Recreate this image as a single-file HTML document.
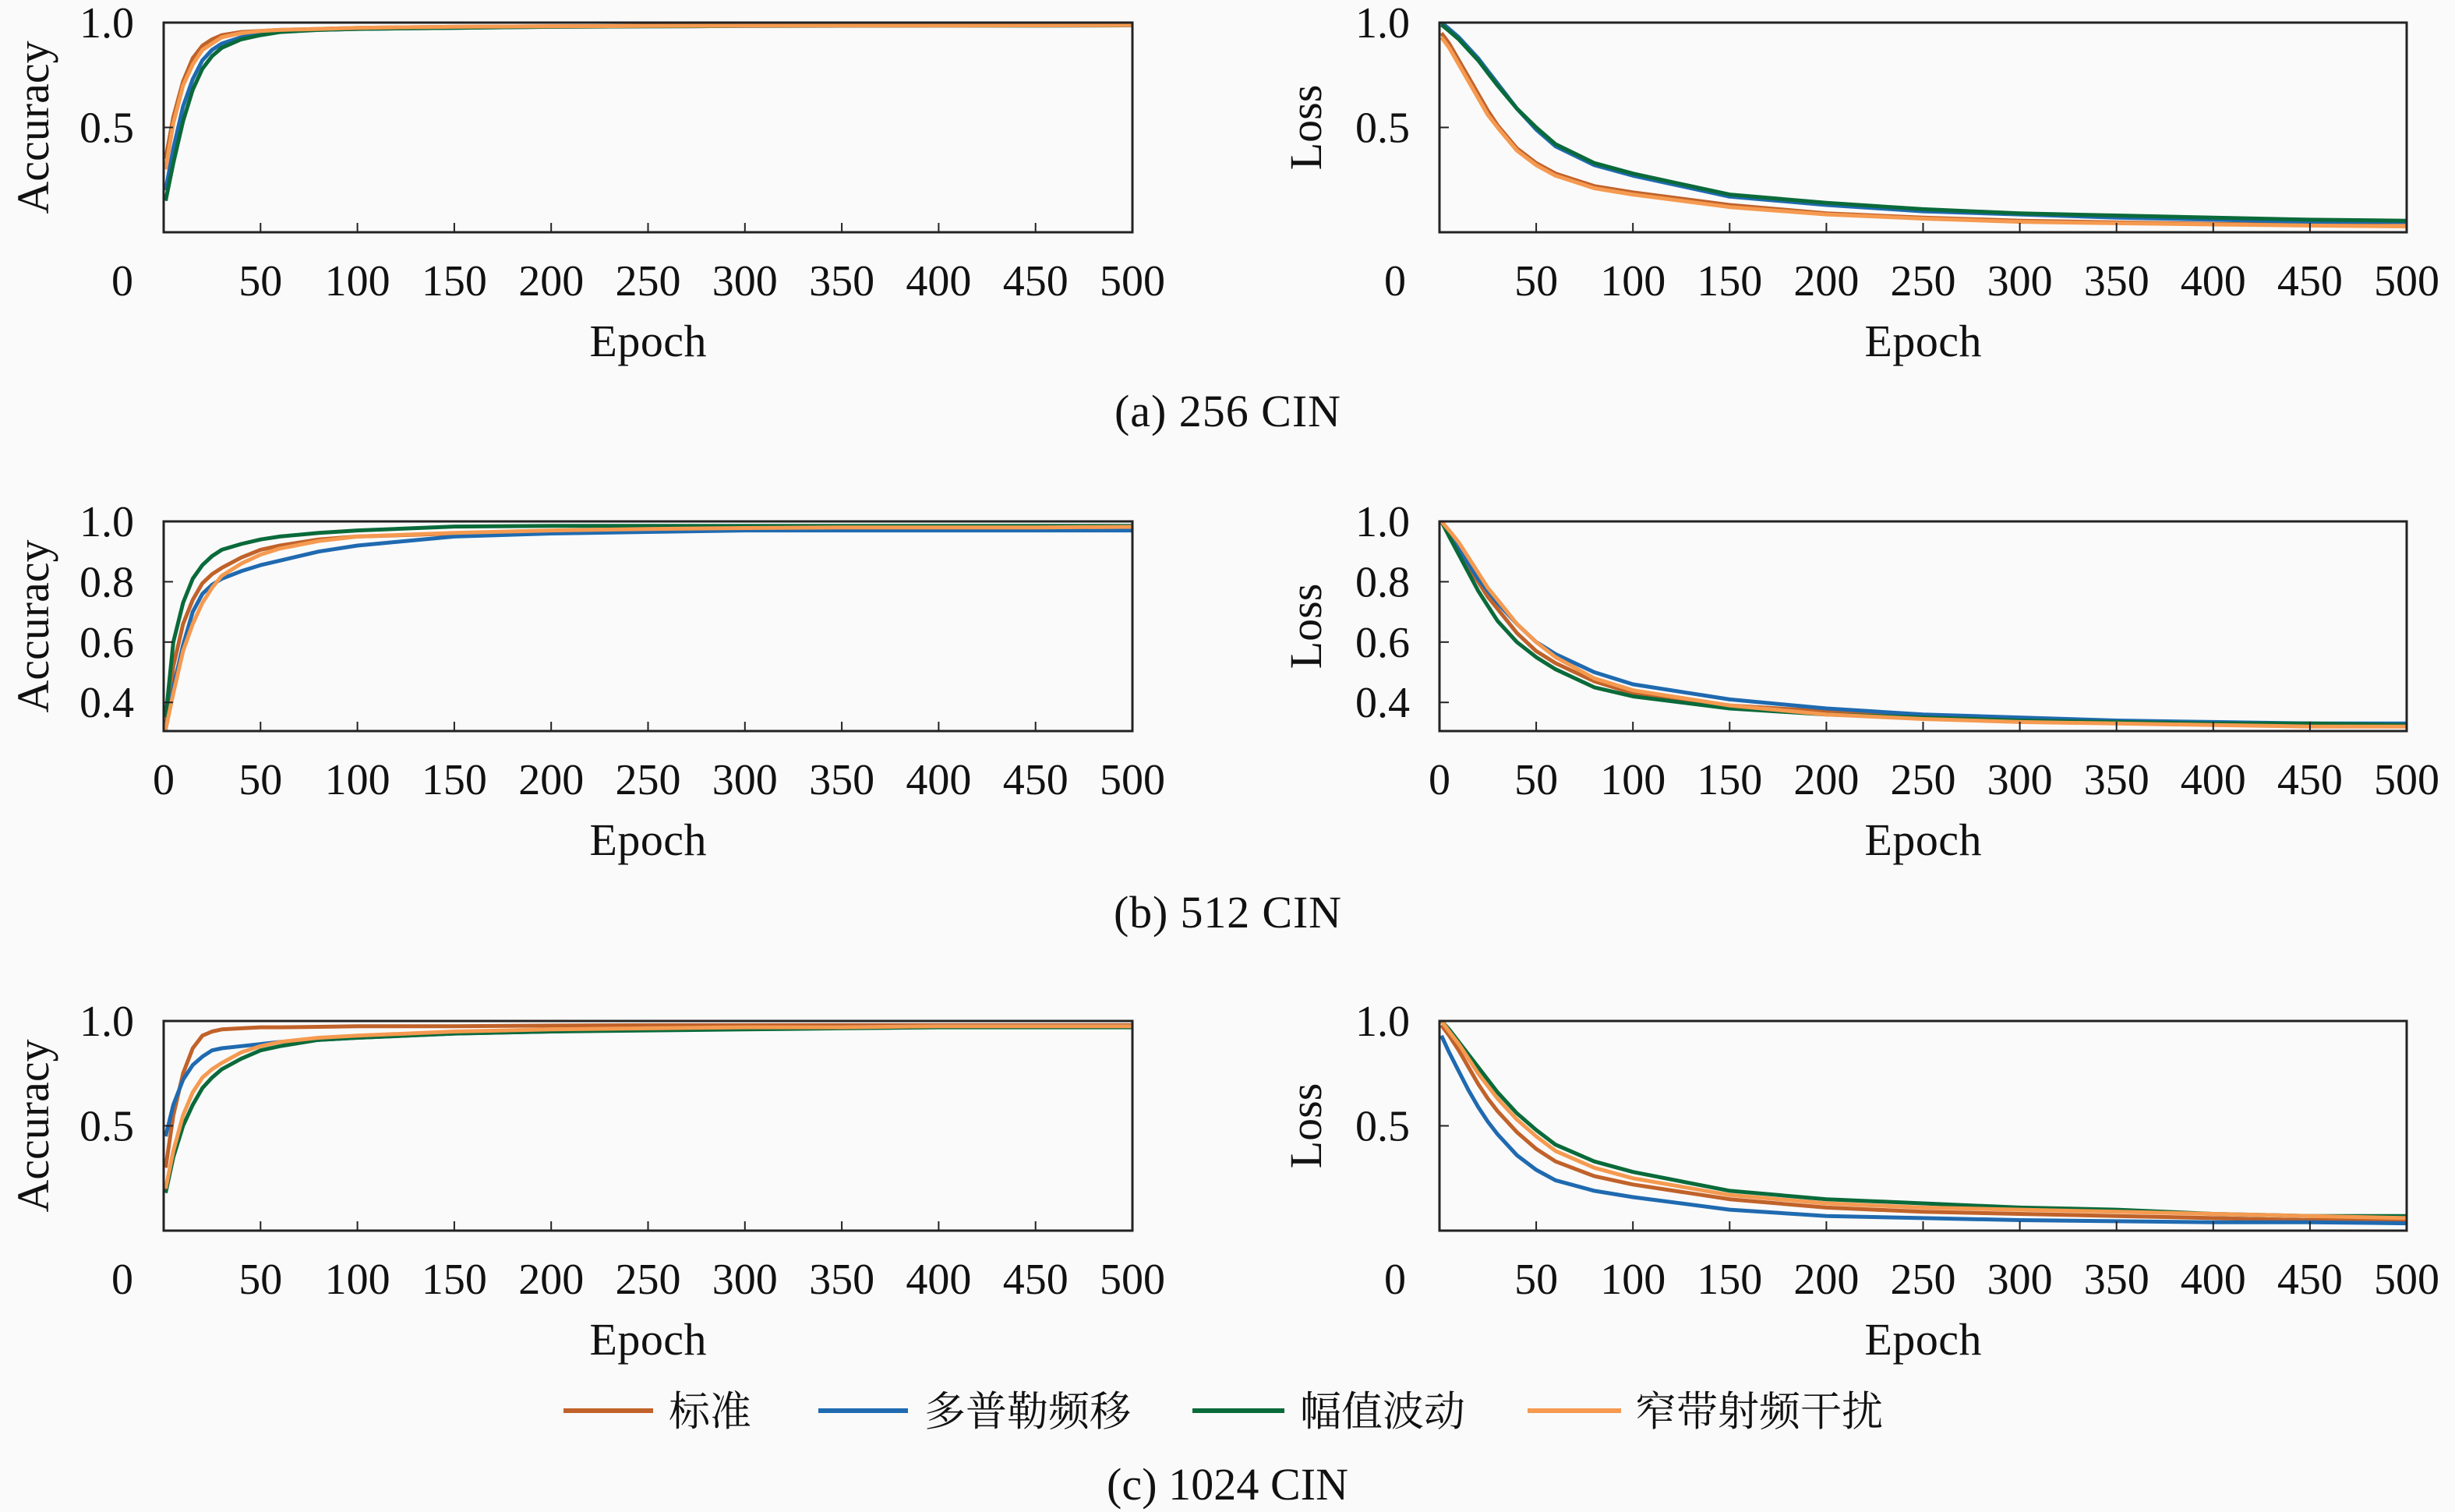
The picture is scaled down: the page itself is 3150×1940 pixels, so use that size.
<!DOCTYPE html>
<html><head><meta charset="utf-8">
<style>
html,body{margin:0;padding:0;background:#fafafa;}
svg{display:block;}
text{font-family:"Liberation Serif","Noto Serif CJK SC",serif;fill:#111;}
</style></head>
<body>
<svg id="fig" width="3150" height="1940" viewBox="0 0 3150 1940" xmlns="http://www.w3.org/2000/svg">
<rect width="3150" height="1940" fill="#fafafa"/>
<g id="plots"></g>
<g>
  <line x1="723" y1="1810" x2="838" y2="1810" stroke="#c0622a" stroke-width="6"/>
  <text x="858" y="1829" font-size="53">标准</text>
  <line x1="1050" y1="1810" x2="1165" y2="1810" stroke="#1f6ab0" stroke-width="6"/>
  <text x="1186" y="1829" font-size="53">多普勒频移</text>
  <line x1="1530" y1="1810" x2="1648" y2="1810" stroke="#0a6a3a" stroke-width="6"/>
  <text x="1668" y="1829" font-size="53">幅值波动</text>
  <line x1="1960" y1="1810" x2="2080" y2="1810" stroke="#f59a50" stroke-width="6"/>
  <text x="2098" y="1829" font-size="53">窄带射频干扰</text>
</g>
<text x="1575" y="547" font-size="58" text-anchor="middle" textLength="290">(a) 256 CIN</text>
<text x="1575" y="1190" font-size="58" text-anchor="middle" textLength="292">(b) 512 CIN</text>
<text x="1575" y="1924" font-size="58" text-anchor="middle" textLength="310">(c) 1024 CIN</text>
</svg>
<script>
const epochs = [1,5,10,15,20,25,30,40,50,60,80,100,150,200,250,300,350,400,450,500];
const xTicks = [50,100,150,200,250,300,350,400,450,500];
const seriesNames = ['standard','doppler','amplitude','narrowband'];
const seriesColors = ['#c0622a','#1f6ab0','#0a6a3a','#f59a50'];

const accA_std = [.35,.55,.72,.83,.89,.92,.94,.955,.96,.965,.97,.975,.98,.982,.985,.985,.986,.987,.987,.988];
const accA_dop = [.2,.4,.6,.73,.82,.87,.9,.93,.95,.96,.965,.97,.975,.98,.982,.984,.985,.986,.986,.987];
const accA_amp = [.15,.33,.53,.68,.78,.84,.88,.92,.94,.955,.965,.97,.975,.98,.982,.984,.985,.986,.986,.987];
const accA_nb  = [.3,.52,.7,.8,.87,.9,.93,.95,.96,.965,.97,.975,.98,.982,.984,.985,.986,.986,.987,.988];

const lossA_std = [.95,.9,.82,.74,.66,.58,.51,.4,.33,.28,.22,.19,.13,.09,.07,.055,.047,.04,.035,.03];
const lossA_dop = [1.0,.97,.93,.88,.83,.77,.71,.59,.49,.41,.32,.27,.17,.13,.1,.085,.07,.06,.05,.05];
const lossA_amp = [.99,.96,.92,.87,.82,.76,.7,.59,.5,.42,.33,.28,.18,.14,.11,.09,.08,.07,.06,.055];
const lossA_nb  = [.93,.88,.8,.72,.64,.56,.5,.39,.32,.27,.21,.18,.12,.085,.065,.05,.043,.037,.032,.028];

const accB_std = [.31,.52,.66,.74,.795,.825,.846,.88,.906,.92,.94,.95,.96,.966,.97,.972,.973,.974,.975,.975];
const accB_dop = [.31,.45,.59,.7,.76,.79,.81,.835,.855,.87,.9,.92,.95,.96,.965,.97,.97,.97,.97,.97];
const accB_amp = [.35,.6,.73,.81,.855,.885,.906,.925,.94,.95,.962,.97,.983,.985,.985,.985,.985,.985,.985,.985];
const accB_nb  = [.31,.43,.57,.66,.73,.78,.82,.86,.89,.91,.935,.95,.962,.97,.975,.978,.98,.98,.98,.982];

const lossB_std = [1.0,.96,.91,.85,.8,.75,.71,.63,.57,.53,.47,.43,.39,.37,.35,.34,.335,.33,.33,.325];
const lossB_dop = [1.0,.96,.91,.86,.81,.77,.73,.66,.6,.56,.5,.46,.41,.38,.36,.35,.34,.335,.33,.33];
const lossB_amp = [1.0,.95,.89,.83,.77,.72,.67,.6,.55,.51,.45,.42,.38,.36,.35,.34,.335,.33,.33,.325];
const lossB_nb  = [1.0,.97,.93,.88,.83,.78,.74,.66,.6,.55,.48,.44,.39,.36,.345,.335,.33,.325,.32,.32];

const accC_std = [.3,.55,.75,.87,.93,.95,.96,.965,.97,.97,.972,.975,.975,.978,.98,.98,.98,.98,.98,.98];
const accC_dop = [.45,.6,.72,.79,.83,.86,.87,.88,.89,.9,.91,.92,.94,.95,.96,.965,.97,.975,.975,.975];
const accC_amp = [.18,.35,.5,.6,.68,.73,.77,.82,.86,.88,.91,.92,.94,.95,.955,.96,.965,.97,.97,.97];
const accC_nb  = [.2,.38,.55,.66,.73,.77,.8,.85,.88,.9,.92,.93,.95,.96,.965,.97,.97,.975,.975,.975];

const lossC_std = [.98,.93,.86,.78,.7,.63,.57,.47,.39,.33,.26,.22,.15,.11,.09,.08,.07,.06,.05,.05];
const lossC_dop = [.93,.85,.76,.67,.59,.52,.46,.36,.29,.24,.19,.16,.1,.07,.06,.05,.045,.04,.04,.035];
const lossC_amp = [1.0,.96,.9,.84,.78,.72,.66,.56,.48,.41,.33,.28,.19,.15,.13,.11,.1,.08,.07,.07];
const lossC_nb  = [1.0,.95,.89,.82,.75,.69,.63,.53,.45,.38,.3,.25,.17,.13,.11,.1,.09,.08,.07,.06];

const yTicksAB = ['0.5','1.0'];
const yTicksB = ['0.4','0.6','0.8','1.0'];

const NS='http://www.w3.org/2000/svg';
const root=document.getElementById('plots');
function mk(tag,attrs,parent){const e=document.createElementNS(NS,tag);for(const k in attrs)e.setAttribute(k,attrs[k]);(parent||root).appendChild(e);return e;}

const panels=[
 {id:'a-accuracy',x0:210,x1:1453,y0:29,y1:298,ymin:0,ymax:1,ylab:'Accuracy',labX:62,ticks:yTicksAB,zeroX:157,data:[accA_std,accA_dop,accA_amp,accA_nb]},
 {id:'a-loss',x0:1847,x1:3088,y0:29,y1:298,ymin:0,ymax:1,ylab:'Loss',labX:1695,ticks:yTicksAB,zeroX:1790,data:[lossA_std,lossA_dop,lossA_amp,lossA_nb]},
 {id:'b-accuracy',x0:210,x1:1453,y0:669,y1:938,ymin:0.305,ymax:1,ylab:'Accuracy',labX:62,ticks:yTicksB,zeroX:210,data:[accB_std,accB_dop,accB_amp,accB_nb]},
 {id:'b-loss',x0:1847,x1:3088,y0:669,y1:938,ymin:0.305,ymax:1,ylab:'Loss',labX:1695,ticks:yTicksB,zeroX:1847,data:[lossB_std,lossB_dop,lossB_amp,lossB_nb]},
 {id:'c-accuracy',x0:210,x1:1453,y0:1310,y1:1579,ymin:0,ymax:1,ylab:'Accuracy',labX:62,ticks:yTicksAB,zeroX:157,data:[accC_std,accC_dop,accC_amp,accC_nb]},
 {id:'c-loss',x0:1847,x1:3088,y0:1310,y1:1579,ymin:0,ymax:1,ylab:'Loss',labX:1695,ticks:yTicksAB,zeroX:1790,data:[lossC_std,lossC_dop,lossC_amp,lossC_nb]}
];

panels.forEach(p=>{
  const g=mk('g',{});
  
  
  const xs=v=>p.x0+(v-0)/(500-0)*(p.x1-p.x0);
  const ys=v=>p.y1-(v-p.ymin)/(p.ymax-p.ymin)*(p.y1-p.y0);
  const clip='clip-'+p.id;
  const cp=mk('clipPath',{id:clip},g);
  mk('rect',{x:p.x0,y:p.y0,width:p.x1-p.x0,height:p.y1-p.y0},cp);
  const lines=mk('g',{'clip-path':'url(#'+clip+')'},g);
  p.data.forEach((arr,i)=>{
    const pts=arr.map((v,j)=>xs(epochs[j]).toFixed(1)+','+ys(v).toFixed(1)).join(' ');
    const pl=mk('polyline',{points:pts,fill:'none',stroke:seriesColors[i],'stroke-width':5,'stroke-linejoin':'round'},lines);
    
    
  });
  const box=mk('rect',{x:p.x0,y:p.y0,width:p.x1-p.x0,height:p.y1-p.y0,fill:'none',stroke:'#222','stroke-width':3},g);
  
  
  xTicks.forEach(t=>{
    mk('line',{x1:xs(t),x2:xs(t),y1:p.y1,y2:p.y1-12,stroke:'#222','stroke-width':2},g);
    const tx=mk('text',{x:xs(t),y:p.y1+81,'font-size':56,'text-anchor':'middle'},g);
    tx.textContent=t;
    
    
  });
  const z=mk('text',{x:p.zeroX,y:p.y1+81,'font-size':56,'text-anchor':'middle'},g);
  z.textContent='0';
  
  
  p.ticks.forEach(t=>{
    const v=parseFloat(t);
    mk('line',{x1:p.x0,x2:p.x0+12,y1:ys(v),y2:ys(v),stroke:'#222','stroke-width':2},g);
    const ty=mk('text',{x:p.x0-38,y:ys(v)+19,'font-size':56,'text-anchor':'end'},g);
    ty.textContent=t;
    
    
  });
  const xl=mk('text',{x:(p.x0+p.x1)/2,y:p.y1+159,'font-size':58,'text-anchor':'middle',textLength:150},g);
  xl.textContent='Epoch';
  
  
  const cy=(p.y0+p.y1)/2;
  const yl=mk('text',{x:p.labX,y:cy,'font-size':58,'text-anchor':'middle',transform:'rotate(-90 '+p.labX+' '+cy+')'},g);
  yl.textContent=p.ylab;
  
  
});
</script>
</body></html>
